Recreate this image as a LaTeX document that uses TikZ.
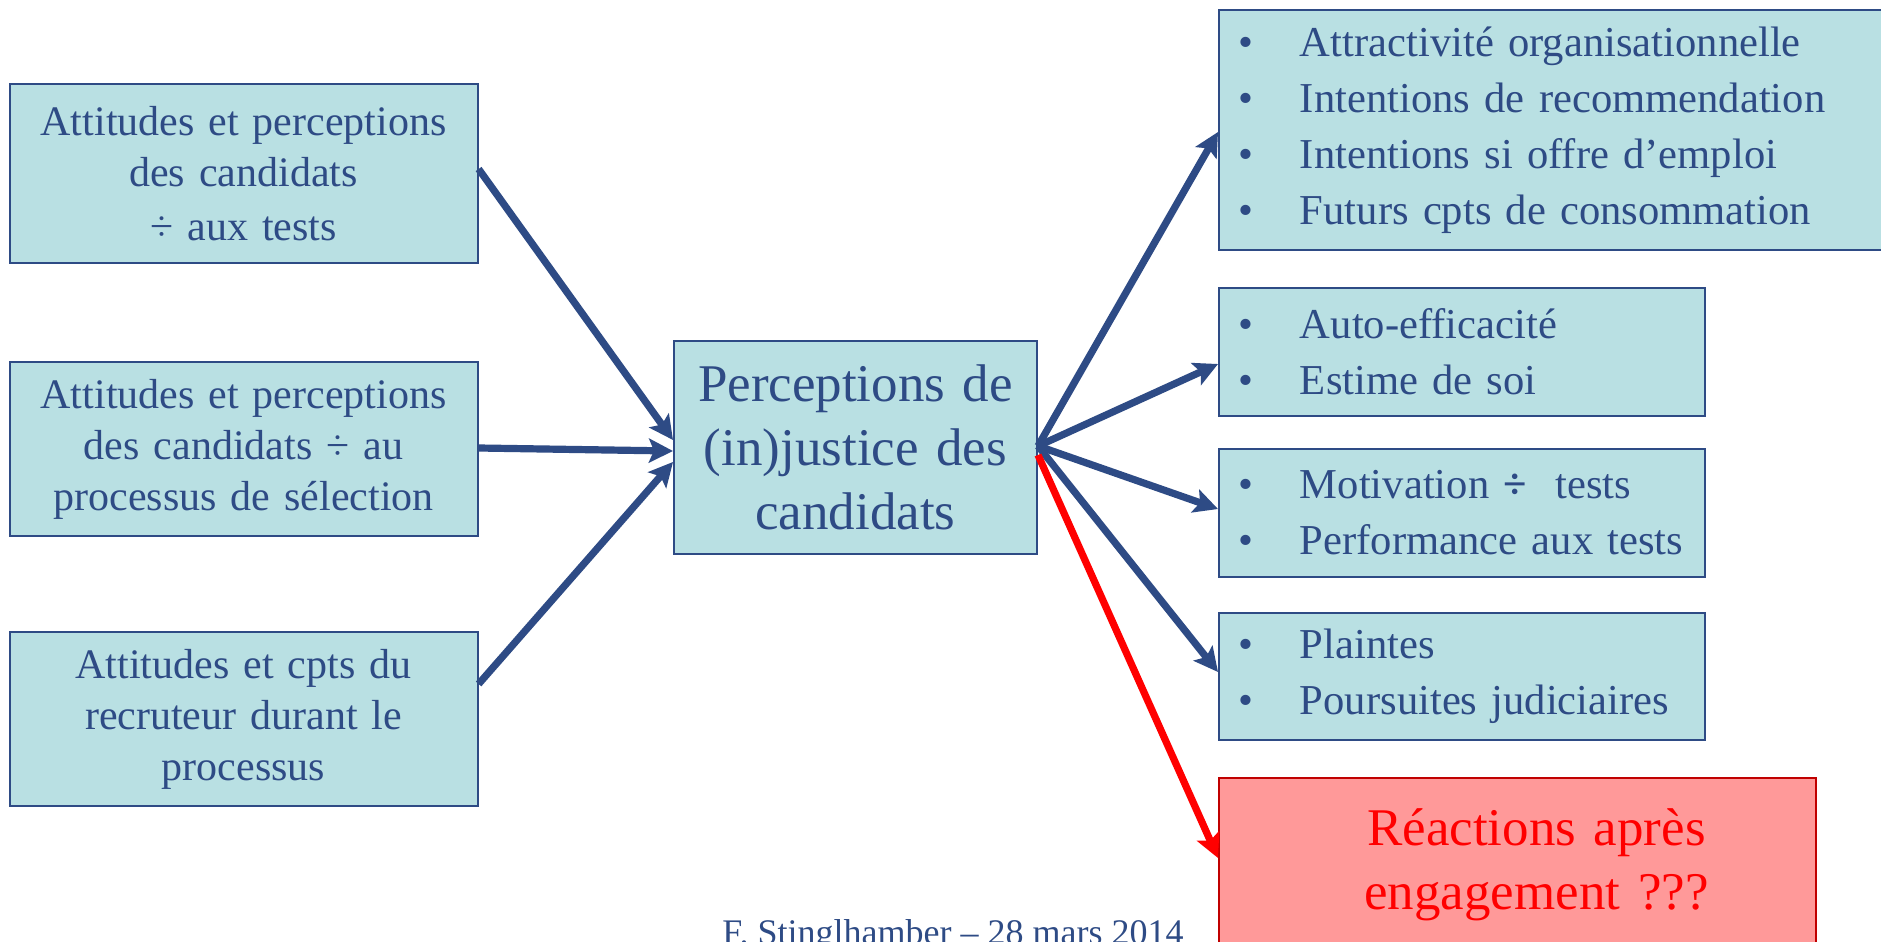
\documentclass[tikz,border=0pt]{standalone}
\usepackage{fontspec}
\setmainfont{Liberation Serif}
\usetikzlibrary{arrows.meta}
\definecolor{boxfill}{HTML}{B9E0E3}
\definecolor{navy}{HTML}{2E4B85}
\definecolor{redfill}{HTML}{FF9999}
\definecolor{redborder}{HTML}{C00000}
\definecolor{pure}{HTML}{FF0000}
\newcommand{\rbul}{\makebox[30.75pt][l]{•}}
\tikzset{
  basebox/.style={draw=navy, line width=1pt, fill=boxfill, text=navy, inner sep=0pt},
  lbox/.style={basebox, minimum width=234pt, text width=230pt, align=center,
    font=\fontsize{21}{25.5}\selectfont},
  cbox/.style={basebox, minimum width=181.5pt, minimum height=106.5pt, text width=178pt, align=center,
    font=\fontsize{26.5}{32}\selectfont},
  rbox/.style={basebox, inner xsep=9.75pt, align=left,
    font=\fontsize{21.3}{28}\selectfont},
  redbox/.style={draw=redborder, line width=1pt, fill=redfill, text=pure, inner sep=0pt,
    minimum width=298.5pt, minimum height=86.5pt, text width=298.5pt, align=center,
    font=\fontsize{26.5}{32}\selectfont},
  arr/.style={draw=navy, line width=3.6pt, -{Stealth[length=12pt,width=12pt,inset=2.5pt]}},
  redarr/.style={draw=pure, line width=3.6pt, -{Stealth[length=12pt,width=12pt,inset=2.5pt]}},
}
\begin{document}
\begin{tikzpicture}[x=0.5pt, y=-0.5pt]
\useasboundingbox[fill=white] (0,0) rectangle (1881,942);
\begin{scope}
\clip (0,0) rectangle (1881,942);
% left boxes
\node[lbox, minimum height=89.5pt] (l1) at (243.6,173.5) {Attitudes et perceptions\\des candidats\\[1.5pt]÷ aux tests};
\node[lbox, minimum height=87pt] (l2) at (243.6,449) {Attitudes et perceptions\\des candidats ÷ au\\processus de sélection};
\node[lbox, minimum height=87pt] (l3) at (243.6,719) {Attitudes et cpts du\\recruteur durant le\\processus};
% centre
\node[cbox] (c) at (855.5,447.5) {Perceptions de\\(in)justice des\\candidats};
% right boxes
\node[rbox, minimum width=340.5pt, minimum height=120pt, text width=321pt] (r1) at (1559.5,130)
  {\rbul Attractivité organisationnelle\\\rbul Intentions de recommendation\\\rbul Intentions si offre d’emploi\\\rbul Futurs cpts de consommation};
\node[rbox, minimum width=243pt, minimum height=64pt, text width=223.5pt] (r2) at (1462,352)
  {\rbul Auto-efficacité\\\rbul Estime de soi};
\node[rbox, minimum width=243pt, minimum height=64pt, text width=223.5pt] (r3) at (1462,513)
  {\rbul Motivation \textbf{÷}\ \ tests\\\rbul Performance aux tests};
\node[rbox, minimum width=243pt, minimum height=63.5pt, text width=223.5pt] (r4) at (1462,676.5)
  {\rbul Plaintes\\\rbul Poursuites judiciaires};
\node[redbox] (rr) at (1517.5,864.5) {\hspace*{19pt}Réactions après\\\hspace*{19pt}engagement ???};
% footer
\node[anchor=base, text=navy, inner sep=0pt, font=\fontsize{18}{21}\selectfont] (foot) at (953,944)
  {F. Stinglhamber – 28 mars 2014};
% arrows in
\draw[arr] ([yshift=2.25pt]l1.east) -- ([yshift=3.75pt]c.west);
\draw[arr] ([yshift=0.5pt]l2.east) -- ([yshift=-1.75pt]c.west);
\draw[arr] ([yshift=17.5pt]l3.east) -- ([yshift=-7.25pt]c.west);
% arrows out
\draw[arr] ([yshift=0.75pt]c.east) -- ([yshift=-1pt]r1.west);
\draw[arr] ([yshift=0.75pt]c.east) -- ([yshift=-6pt]r2.west);
\draw[arr] ([yshift=0.75pt]c.east) -- ([yshift=2pt]r3.west);
\draw[arr] ([yshift=0.75pt]c.east) -- ([yshift=2.25pt]r4.west);
\draw[redarr] ([yshift=-3.75pt]c.east) -- ([yshift=3.25pt]rr.west);
\end{scope}
\end{tikzpicture}
\end{document}
